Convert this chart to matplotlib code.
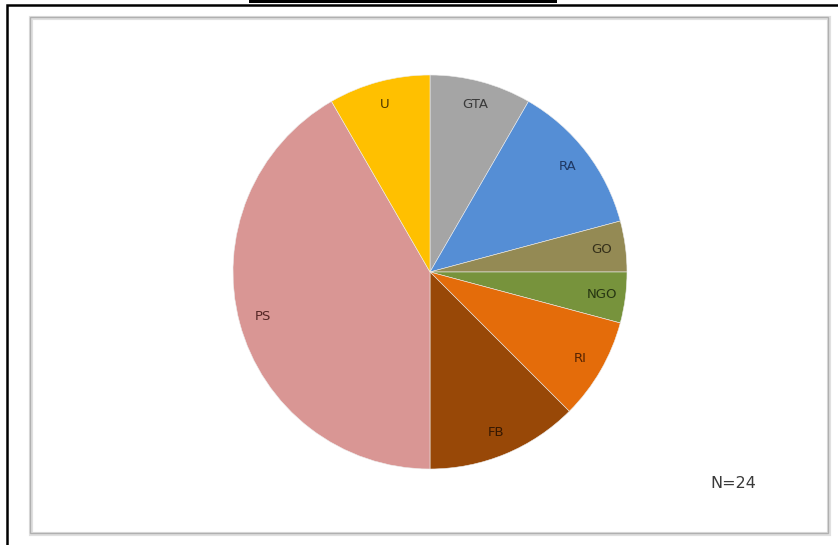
import matplotlib.pyplot as plt
from matplotlib.patches import Rectangle

# Respondent categories (N=24), clockwise from 12 o'clock
labels = ["GTA", "RA", "GO", "NGO", "RI", "FB", "PS", "U"]
counts = [2, 3, 1, 1, 2, 3, 10, 2]
colors = ["#A5A5A5", "#558ED5", "#948A54", "#77933C",
          "#E46C0A", "#984807", "#D99694", "#FFC000"]
text_colors = ["#3A3A3A", "#1F3864", "#35301A", "#263512",
               "#552302", "#351802", "#552726", "#4F3800"]
note = "N=24"

W, H = 838, 545
fig = plt.figure(figsize=(W / 100, H / 100), dpi=100)
fig.patch.set_facecolor("white")

# frame lines around the chart
def px_rect(x0, y0, x1, y1, **kw):
    fig.patches.append(Rectangle((x0 / W, 1 - y1 / H), (x1 - x0) / W, (y1 - y0) / H,
                                 transform=fig.transFigure, figure=fig, **kw))

px_rect(249, -2, 557, 2.5, facecolor="black", edgecolor="none")
px_rect(7, 5, W + 10, H + 10, facecolor="none", edgecolor="black", linewidth=1.8)
px_rect(31, 18, 829, 534, facecolor="none", edgecolor="#E0E0E0", linewidth=3)
px_rect(30, 17, 828, 533, facecolor="none", edgecolor="#B0B0B0", linewidth=1.0)

# pie axes: centre (430, 272) px, radius 197 px
cx, cy, r = 430, 272, 197
ax = fig.add_axes([(cx - r) / W, 1 - (cy + r) / H, 2 * r / W, 2 * r / H])
ax.set_zorder(3)
wedges, texts = ax.pie(counts, labels=labels, colors=colors, startangle=90,
                       counterclock=False, labeldistance=0.88,
                       wedgeprops=dict(edgecolor="#EDEDED", linewidth=0.4),
                       textprops=dict(fontsize=9.5, family="DejaVu Sans"))
for t, c in zip(texts, text_colors):
    t.set_color(c)
    t.set_horizontalalignment("center")
    t.set_verticalalignment("center")
ax.set_xlim(-1, 1)
ax.set_ylim(-1, 1)
ax.set_aspect("auto")
ax.axis("off")

fig.text(733 / W, 1 - 484 / H, note, ha="center", va="center",
         fontsize=11.5, color="#3A3A3A", family="DejaVu Sans")

fig.savefig("out.png", dpi=100)
